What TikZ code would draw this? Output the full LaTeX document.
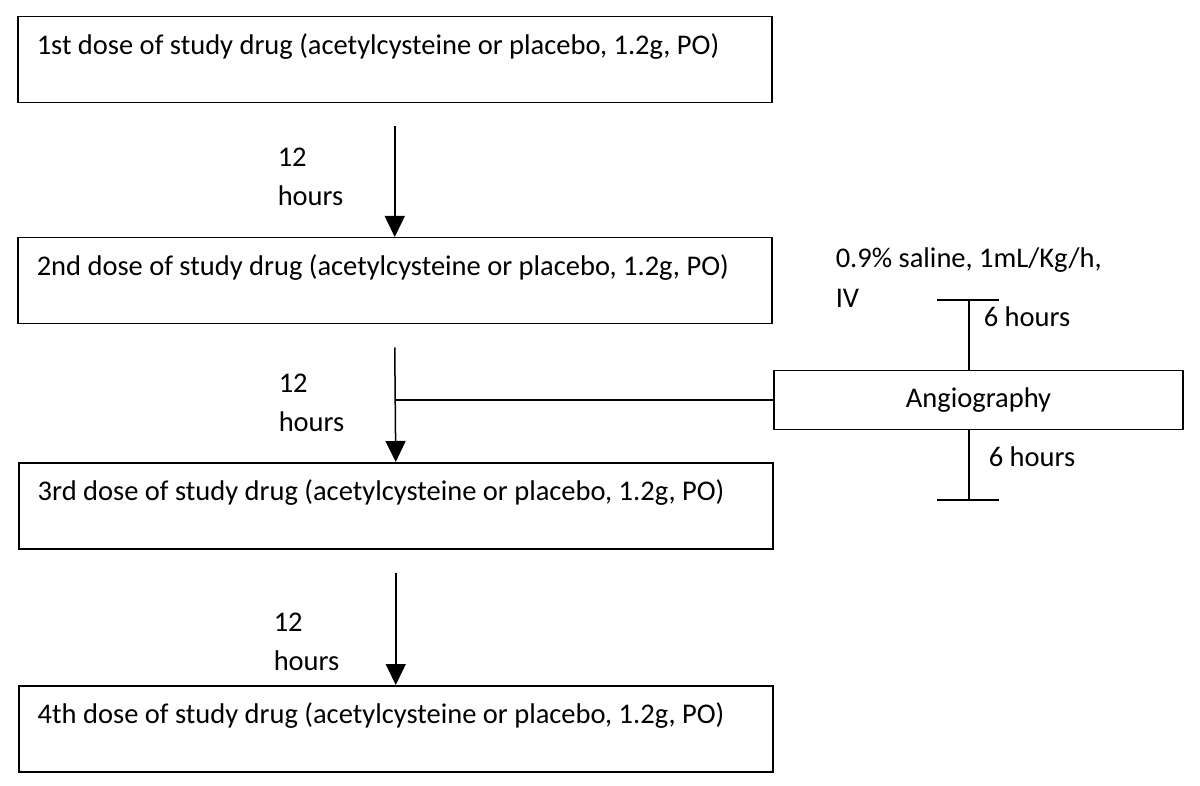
\documentclass[tikz,border=0pt]{standalone}
\usepackage{fontspec}
\setmainfont{Carlito}
\usetikzlibrary{arrows.meta}
\tikzset{>={Triangle[width=20pt, length=21pt]}}
\tikzset{
    dosebox/.style={draw, anchor=north west, inner xsep=19pt, inner ysep=0pt,
        text width=716pt, align=flush left, text height=38pt, text depth=48pt},
    lbl/.style={anchor=west, align=left, inner sep=0pt},
}

\begin{document}
\begin{tikzpicture}[x=1pt, y=-1pt, line width=1.5pt, font=\fontsize{28.5}{39}\selectfont]
    \useasboundingbox(0, 0)rectangle(1200, 786);
    \node[dosebox](d1)at(17, 16){1st dose of study drug (acetylcysteine or placebo, 1.2g, PO)};
    \node[dosebox](d2)at(17, 237){2nd dose of study drug (acetylcysteine or placebo, 1.2g, PO)};
    \node[dosebox](d3)at(18, 462){3rd dose of study drug (acetylcysteine or placebo, 1.2g, PO)};
    \node[dosebox](d4)at(18, 685){4th dose of study drug (acetylcysteine or placebo, 1.2g, PO)};
    \node[draw, minimum width=409pt, minimum height=59pt, inner sep=0pt](ag)at(978.5, 400){Angiography};
    \draw[->]([yshift=-23pt]d1.south)--(d2.north);
    \draw[->]([yshift=-23pt]d2.south)--(d3.north);
    \draw[->]([yshift=-23pt]d3.south)--(d4.north);
    \draw(ag.west)--(ag.west-|d2.south);
    \node[lbl](h1)at(277, 177){12\\hours};
    \node[lbl](h2)at(278, 403){12\\hours};
    \node[lbl](h3)at(273, 642){12\\hours};
    % saline before / after angiography
    \coordinate(t1)at(969, 300);
    \coordinate(t2)at(969, 500);
    \draw(t1|-ag.north)--(t1);
    \draw([xshift=-32pt]t1)--([xshift=30pt]t1);
    \draw(t2|-ag.south)--(t2);
    \draw([xshift=-32pt]t2)--([xshift=30pt]t2);
    \node[lbl, font=\fontsize{28.5}{40}\selectfont](iv)at(835, 278){0.9\% saline, 1mL/Kg/h,\\IV};
    \node[lbl](p1)at(983, 317){6 hours};
    \node[lbl](p2)at(988, 457){6 hours};
\end{tikzpicture}
\end{document}
